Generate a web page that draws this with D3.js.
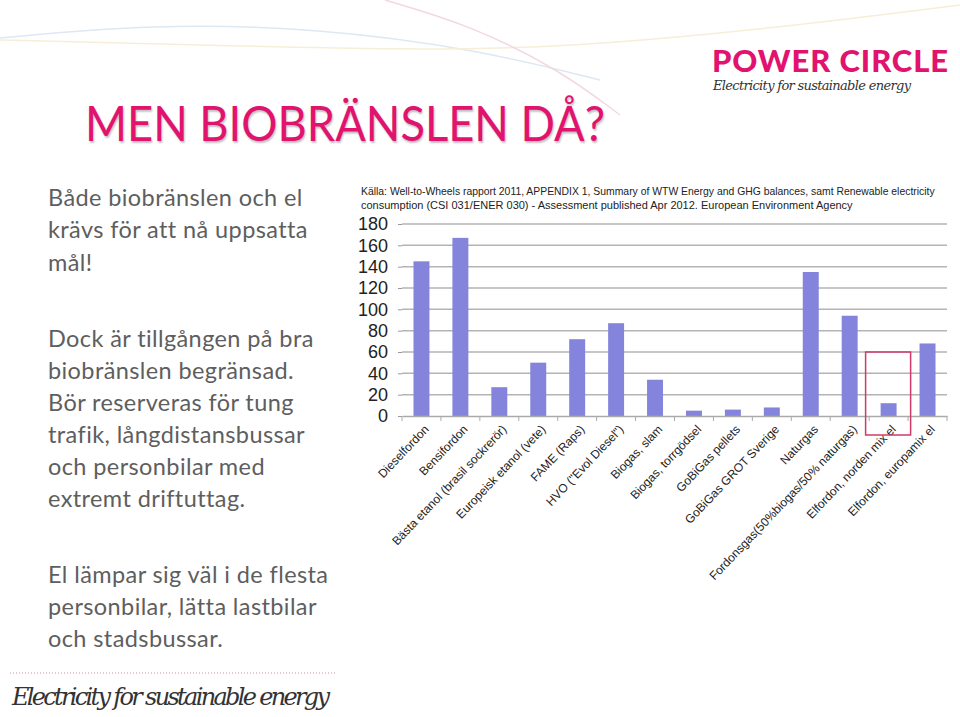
<!DOCTYPE html>
<html><head><meta charset="utf-8">
<script src="https://cdn.jsdelivr.net/npm/d3@7"></script>
<style>body{margin:0;background:#fff;}svg{display:block;}</style>
</head><body>
<script>
const categories = ["Dieselfordon","Bensifordon","Bästa etanol (brasil sockrerör)","Europeisk etanol (vete)","FAME (Raps)","HVO (\"Evol Diesel\")","Biogas, slam","Biogas, torrgödsel","GoBiGas pellets","GoBiGas GROT Sverige","Naturgas","Fordonsgas(50%biogas/50% naturgas)","Elfordon, norden mix el","Elfordon, europamix el"];
const values = [145,167,27,50,72,87,34,5,6,8,135,94,12,68];
const yTicks = [0,20,40,60,80,100,120,140,160,180];
const highlighted = ["Elfordon, norden mix el"];
const titleText = "MEN BIOBRÄNSLEN DÅ?";
const sourceLines = ["Källa: Well-to-Wheels rapport 2011,  APPENDIX 1, Summary of WTW Energy and GHG balances, samt  Renewable electricity","consumption (CSI 031/ENER 030) - Assessment published Apr 2012. European Environment Agency"];
const bodyLines = [
 ["Både biobränslen och el",197],["krävs för att nå uppsatta",229],["mål!",262],
 ["Dock är tillgången på bra",338],["biobränslen begränsad.",370],["Bör reserveras för tung",402],
 ["trafik, långdistansbussar",434],["och personbilar med",466],["extremt driftuttag.",498],
 ["El lämpar sig väl i de flesta",574],["personbilar, lätta lastbilar",606],["och stadsbussar.",638]];

const W=960,H=717;
const svg=d3.select("body").append("svg").attr("width",W).attr("height",H);
const pink="#e2126f";

// faint decorative swooshes
const deco=[
 {pts:[[0,38],[150,24],[320,28],[480,50],[600,80]],c:"#dde8f3"},
 {pts:[[0,40],[200,45],[400,50],[560,48],[760,30],[960,5]],c:"#f6eed8"},
 {pts:[[385,0],[470,25],[560,70],[620,115]],c:"#f3d8e0"}];
deco.forEach(d=>svg.append("path").attr("d",d3.line().curve(d3.curveBasis)(d.pts))
  .attr("fill","none").attr("stroke",d.c).attr("stroke-width",1.5));

// logo
svg.append("text").attr("x",712).attr("y",72).attr("font-family","Lato, 'Open Sans', sans-serif")
 .attr("font-weight",900).attr("font-size",31).attr("fill",pink).attr("textLength",236).text("POWER CIRCLE");
svg.append("text").attr("x",713).attr("y",90).attr("font-family","'DejaVu Serif', serif").attr("font-style","italic")
 .attr("font-size",13).attr("fill","#333").attr("textLength",198).text("Electricity for sustainable energy");

// title
svg.append("text").attr("x",85).attr("y",141).attr("font-family","Lato, sans-serif")
 .attr("font-size",48).attr("fill",pink).attr("textLength",520).attr("lengthAdjust","spacingAndGlyphs")
 .style("text-shadow","1px 2px 2px rgba(0,0,0,0.25)").text(titleText);

// body text
svg.selectAll("text.body").data(bodyLines).join("text").attr("class","body")
 .attr("x",48).attr("y",d=>d[1]+9).attr("font-family","Lato, sans-serif").attr("font-size",23.5)
 .attr("letter-spacing",0.4).attr("fill","#5e5e5e").text(d=>d[0]);

// footer
svg.append("line").attr("x1",10).attr("x2",335).attr("y1",673).attr("y2",673)
 .attr("stroke","#d88aa8").attr("stroke-width",1).attr("stroke-dasharray","1,2");
svg.append("text").attr("x",12).attr("y",705).attr("font-family","'DejaVu Serif', serif").attr("font-style","italic")
 .attr("font-size",24).attr("fill","#333").attr("textLength",318).text("Electricity for sustainable energy");

// source
svg.selectAll("text.src").data(sourceLines).join("text").attr("class","src")
 .attr("x",361).attr("y",(d,i)=>195+i*13.5).attr("font-family","'Liberation Sans', Arial, sans-serif")
 .attr("font-size",(d,i)=>i===0?10.4:11).attr("fill","#222").text(d=>d);

// chart
const x=d3.scaleBand().domain(categories).range([402,947]).paddingInner(0.59).paddingOuter(0.295);
const y=d3.scaleLinear().domain([0,180]).range([416,224]);

svg.append("g").selectAll("line").data(yTicks.slice(1)).join("line")
 .attr("x1",402).attr("x2",947).attr("y1",d=>y(d)).attr("y2",d=>y(d))
 .attr("stroke","#b4b4b4").attr("stroke-width",1.5);

const ya=svg.append("g").attr("transform","translate(402,0)")
 .call(d3.axisLeft(y).tickValues(yTicks).tickSize(4).tickPadding(10));
ya.select(".domain").remove();
ya.selectAll("line").attr("stroke","#999");
ya.selectAll("text").attr("font-family","'Liberation Sans', Arial, sans-serif").attr("font-size",18).attr("fill","#222");

svg.append("g").selectAll("rect").data(categories).join("rect")
 .attr("x",d=>x(d)).attr("width",x.bandwidth())
 .attr("y",(d,i)=>y(values[i])).attr("height",(d,i)=>y(0)-y(values[i]))
 .attr("fill","#8484dc");

const step=x.step();
const xa=svg.append("g").attr("transform","translate(0,416)")
 .call(d3.axisBottom(x).tickSize(0).tickFormat(()=>""));
xa.select(".domain").attr("stroke","#aaa").attr("stroke-width",1.5);
svg.append("g").selectAll("line").data(d3.range(categories.length+1)).join("line")
 .attr("x1",i=>402+i*step).attr("x2",i=>402+i*step).attr("y1",416).attr("y2",421).attr("stroke","#aaa");

svg.append("g").selectAll("text").data(categories).join("text")
 .attr("transform",d=>`translate(${x(d)+x.bandwidth()/2+5},${427}) rotate(-46.5)`)
 .attr("text-anchor","end").attr("dy","0.35em")
 .attr("font-family","'Liberation Sans', Arial, sans-serif").attr("font-size",12).attr("fill","#222")
 .text(d=>d);

// highlight box
svg.selectAll("rect.hl").data(highlighted).join("rect").attr("class","hl")
 .attr("x",d=>x(d)+x.bandwidth()/2-23).attr("width",45)
 .attr("y",y(60)).attr("height",435-y(60))
 .attr("fill","none").attr("stroke","#d03a6a").attr("stroke-width",1.5);
</script>
</body></html>
